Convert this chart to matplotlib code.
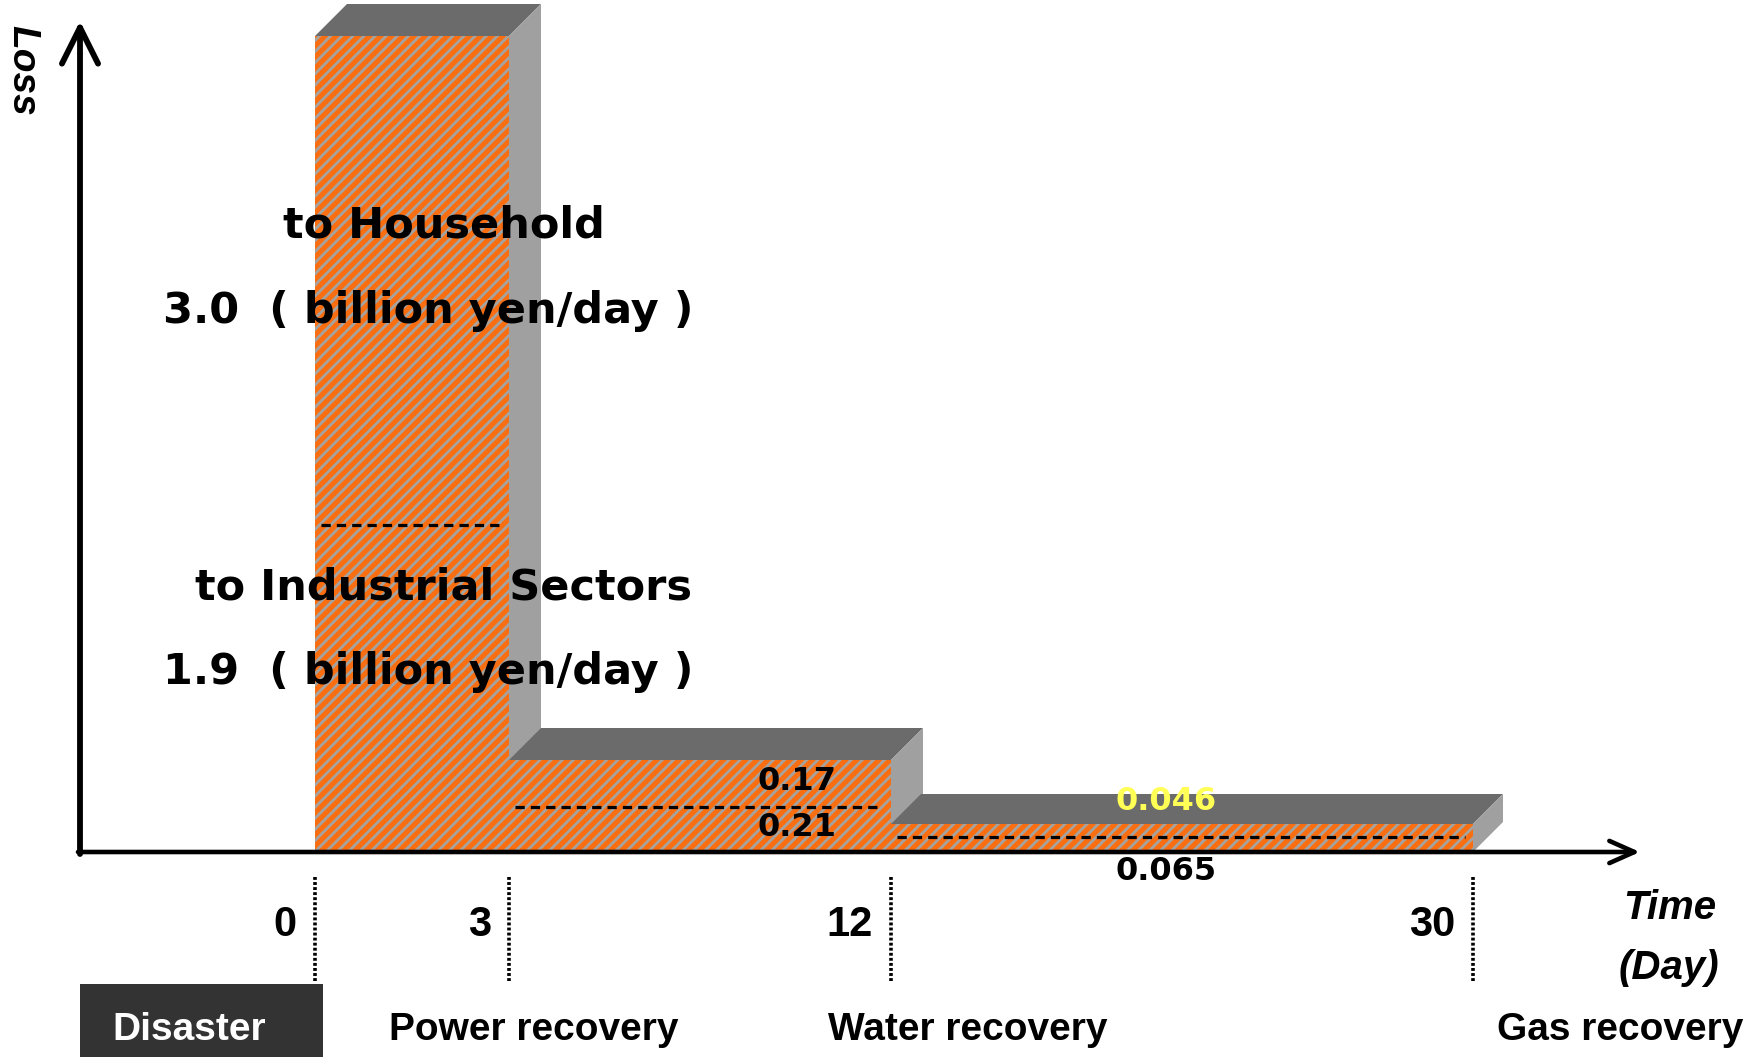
import matplotlib.pyplot as plt
from matplotlib.patches import Rectangle, Polygon

# data
days = [0, 3, 12, 30]
day_labels = ['0', '3', '12', '30']
events = ['Disaster', 'Power recovery', 'Water recovery', 'Gas recovery']
loss_household = [3.0, 0.17, 0.046]      # billion yen/day
loss_industry = [1.9, 0.21, 0.065]

# the drawing is schematic (not to scale), so layout is kept apart
step_x = [315, 509, 891, 1473]   # where each day sits on the time axis
step_h = [816, 92, 28]           # drawn height of each step
split_h = [327, 45, 15]          # where the dashed split sits in each step
base = 205
depth = [32, 32, 30]

plt.rcParams['hatch.linewidth'] = 2.0
narrow = dict(family=['Liberation Sans', 'DejaVu Sans'], fontweight='bold')

fig = plt.figure(figsize=(17.47, 10.57), dpi=100)
ax = fig.add_axes([0, 0, 1, 1])
ax.set_xlim(0, 1747)
ax.set_ylim(0, 1057)
ax.axis('off')

for i in range(3):
    x0, x1 = step_x[i], step_x[i + 1]
    top = base + step_h[i]
    d = depth[i]
    ax.add_patch(Rectangle((x0, base), x1 - x0, step_h[i], facecolor='#FA6E12',
                           edgecolor='#A6A39F', linewidth=0, hatch='///', zorder=2))
    ax.add_patch(Polygon([(x0, top), (x0 + d, top + d), (x1 + d, top + d), (x1, top)],
                         closed=True, facecolor='#6B6B6B', edgecolor='none', zorder=2))
    ax.add_patch(Polygon([(x1, base), (x1, top), (x1 + d, top + d), (x1 + d, base + d)],
                         closed=True, facecolor='#A0A0A0', edgecolor='none', zorder=2))
    ax.plot([x0 + 6, x1 - 8], [base + split_h[i]] * 2, color='black', lw=2.3,
            linestyle=(0, (2.9, 1.9)), zorder=3)

# axes arrows
ax.annotate('', xy=(80, 1036), xytext=(80, base - 2),
            arrowprops=dict(arrowstyle='->,head_length=1.3,head_width=0.65',
                            lw=4.2, color='black', mutation_scale=20,
                            shrinkA=0, shrinkB=0), zorder=5)
ax.annotate('', xy=(1640, base), xytext=(78, base),
            arrowprops=dict(arrowstyle='->,head_length=0.9,head_width=0.4',
                            lw=3.3, color='black', mutation_scale=20,
                            shrinkA=0, shrinkB=0), zorder=5)

# day marks
for x, lab in zip(step_x, day_labels):
    ax.plot([x, x], [76, 180], color='black', lw=2.6, linestyle=(0, (0.8, 0.6)))
    ax.text(x - 18, 132, lab, ha='right', va='center', fontsize=30, **narrow)

# events along the bottom
ax.add_patch(Rectangle((80, 0), 243, 73, facecolor='#333333', edgecolor='none'))
ev_x = [189, 534, 968, 1620]
for x, ev in zip(ev_x, events):
    ax.text(x, 27, ev, ha='center', va='center', fontsize=28, **narrow,
            color='white' if ev == 'Disaster' else 'black')

ax.text(1670, 149, 'Time', ha='center', va='center', fontsize=29,
        style='italic', **narrow)
ax.text(1669, 89, '(Day)', ha='center', va='center', fontsize=29,
        style='italic', **narrow)
ax.text(22, 987, 'Loss', ha='center', va='center', rotation=270, fontsize=28,
        style='italic', **narrow)

# loss annotations
big = dict(ha='center', va='center', fontsize=31, fontweight='bold',
           family='DejaVu Sans', zorder=6)
ax.text(444, 831, 'to Household', **big)
ax.text(428, 746, f'{loss_household[0]:.1f}  ( billion yen/day )', **big)
ax.text(444, 469, 'to Industrial Sectors', **big)
ax.text(428, 385, f'{loss_industry[0]:.1f}  ( billion yen/day )', **big)

small = dict(ha='center', va='center', fontsize=23, fontweight='bold',
             family='DejaVu Sans', zorder=6)
ax.text(797, 275, str(loss_household[1]), **small)
ax.text(797, 230, str(loss_industry[1]), **small)
ax.text(1166, 255, str(loss_household[2]), color='#FFFF55', **small)
ax.text(1166, 185, str(loss_industry[2]), **small)

plt.savefig('out.png', dpi=100)
